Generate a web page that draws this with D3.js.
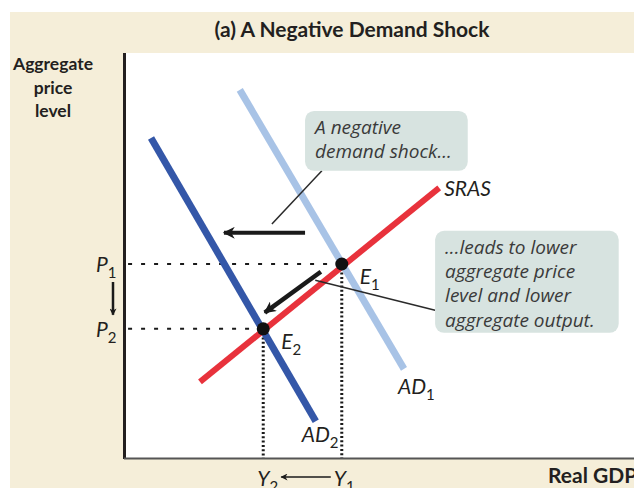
<!DOCTYPE html>
<html>
<head>
<meta charset="utf-8">
<script src="https://cdn.jsdelivr.net/npm/d3@7"></script>
<style>
    body { margin: 0; background: #fff; }
    svg { display: block; }
    .bold { font-family: Lato, "Open Sans", sans-serif; font-weight: 700; fill: #231f20; }
    .ital { font-family: Lato, "Open Sans", sans-serif; font-style: italic; fill: #231f20; }
    .note { font-family: "Open Sans", Lato, sans-serif; font-style: italic; fill: #3a3a3a; font-size: 19px; }
</style>
</head>
<body>
<div id="chart"></div>
<script>
// curves, in chart units (x: real GDP, y: aggregate price level)
const ad1 = [[22.7, 90.9], [54.9, 22.0]];
const ad2 = [[5.3, 79.0], [37.6, 9.1]];
const sras = [[14.9, 18.8], [61.8, 66.7]];

// equilibria
const equilibria = [
    { name: "E", sub: "1", x: 42.7, y: 47.9 },
    { name: "E", sub: "2", x: 27.3, y: 31.9 }
];

// arrows
const shiftArrow = [[35.5, 55.6], [19.6, 55.6]];
const moveArrow = [[38.6, 46.0], [27.6, 35.9]];

// callouts
const notes = [
    { lines: ["A negative", "demand shock..."], box: [35.5, 85.7, 67.4, 70.9], leader: [[38.8, 70.9], [29.0, 57.8]] },
    { lines: ["...leads to lower", "aggregate price", "level and lower", "aggregate output."], box: [61.0, 56.1, 97.0, 30.9], leader: [[61.0, 36.5], [37.5, 43.9]] }
];

const width = 634, height = 488;
const margin = { top: 53, right: 0, bottom: 30, left: 124 };

const svg = d3.select("#chart").append("svg")
    .attr("width", width).attr("height", height);

const x = d3.scaleLinear().domain([0, 100]).range([margin.left, width - margin.right]);
const y = d3.scaleLinear().domain([0, 100]).range([height - margin.bottom, margin.top]);

const beige = "#f5eed9";

// background panels
svg.append("rect").attr("x", 10).attr("y", 12).attr("width", width - 10).attr("height", height - 12).attr("fill", beige);
svg.append("rect").attr("x", x(0)).attr("y", y(100))
    .attr("width", x(100) - x(0)).attr("height", y(0) - y(100)).attr("fill", "#fff");

// arrow heads
const defs = svg.append("defs");
defs.append("marker").attr("id", "head").attr("viewBox", "0 0 10 10")
    .attr("refX", 9).attr("refY", 5).attr("markerUnits", "userSpaceOnUse")
    .attr("markerWidth", 17).attr("markerHeight", 12).attr("orient", "auto")
    .append("path").attr("d", "M0,0 L10,5 L0,10 L3,5 Z").attr("fill", "#1a1a1a");
defs.append("marker").attr("id", "headSmall").attr("viewBox", "0 0 10 10")
    .attr("refX", 9).attr("refY", 5).attr("markerUnits", "userSpaceOnUse")
    .attr("markerWidth", 10).attr("markerHeight", 7).attr("orient", "auto")
    .append("path").attr("d", "M0,0 L10,5 L0,10 L3,5 Z").attr("fill", "#1a1a1a");

// title
svg.append("text").attr("class", "bold").attr("x", 352).attr("y", 37)
    .attr("text-anchor", "middle").attr("font-size", 21)
    .text("(a) A Negative Demand Shock");

// y axis title
svg.append("text").attr("class", "bold").attr("font-size", 17.5).attr("text-anchor", "middle")
    .selectAll("tspan").data(["Aggregate", "price", "level"]).enter().append("tspan")
    .attr("x", 53).attr("y", (d, i) => 70 + i * 23.5).text(d => d);

// x axis title
svg.append("text").attr("class", "bold").attr("font-size", 21)
    .attr("x", 548).attr("y", 483).text("Real GDP");

const line = d3.line().x(d => x(d[0])).y(d => y(d[1]));

// guide lines
const dotted = svg.append("g").attr("stroke", "#1a1a1a").attr("fill", "none");
equilibria.forEach(e => {
    dotted.append("path").attr("d", line([[0.8, e.y], [e.x, e.y]]))
        .attr("stroke-width", 2).attr("stroke-dasharray", "4 9");
    dotted.append("path").attr("d", line([[e.x, e.y], [e.x, 0]]))
        .attr("stroke-width", 3).attr("stroke-dasharray", "2 2.3");
});

// curves
svg.append("path").attr("d", line(ad1)).attr("stroke", "#a8c3e6").attr("stroke-width", 7).attr("fill", "none");
svg.append("path").attr("d", line(ad2)).attr("stroke", "#3457a8").attr("stroke-width", 7).attr("fill", "none");
svg.append("path").attr("d", line(sras)).attr("stroke", "#e8323c").attr("stroke-width", 6).attr("fill", "none");

// callouts
notes.forEach(n => {
    svg.append("path").attr("d", line(n.leader)).attr("stroke", "#2a2a2a").attr("stroke-width", 1.5).attr("fill", "none");
    svg.append("rect").attr("x", x(n.box[0])).attr("y", y(n.box[1]))
        .attr("width", x(n.box[2]) - x(n.box[0])).attr("height", y(n.box[3]) - y(n.box[1]))
        .attr("rx", 9).attr("fill", "#d7e3e0");
    svg.append("text").attr("class", "note")
        .selectAll("tspan").data(n.lines).enter().append("tspan")
        .attr("x", x(n.box[0]) + 10).attr("y", (d, i) => y(n.box[1]) + 23 + i * 24.3).text(d => d);
});

// arrows
svg.append("path").attr("d", line(shiftArrow)).attr("stroke", "#1a1a1a").attr("stroke-width", 4)
    .attr("fill", "none").attr("marker-end", "url(#head)");
svg.append("path").attr("d", line(moveArrow)).attr("stroke", "#1a1a1a").attr("stroke-width", 4.5)
    .attr("fill", "none").attr("marker-end", "url(#head)");

// equilibrium points
svg.selectAll(".eq").data(equilibria).enter().append("circle").attr("class", "eq")
    .attr("cx", d => x(d.x)).attr("cy", d => y(d.y)).attr("r", 6.5).attr("fill", "#111");

function subLabel(px, py, main, sub, size) {
    const t = svg.append("text").attr("class", "ital").attr("x", px).attr("y", py).attr("font-size", size || 21);
    t.append("tspan").text(main);
    t.append("tspan").attr("dy", 6).attr("font-size", 15).attr("font-style", "normal").text(sub);
    return t;
}

equilibria.forEach(e => subLabel(x(e.x) + 18, y(e.y) + 20, e.name, e.sub));
subLabel(x(ad1[1][0]) - 6, y(ad1[1][1]) + 25, "AD", "1");
subLabel(x(ad2[1][0]) - 14, y(ad2[1][1]) + 21, "AD", "2");
svg.append("text").attr("class", "ital").attr("font-size", 21)
    .attr("x", x(sras[1][0]) + 5).attr("y", y(sras[1][1]) + 8).text("SRAS");

// axis tick labels
subLabel(96, y(equilibria[0].y) + 8, "P", "1");
subLabel(96, y(equilibria[1].y) + 8, "P", "2");
subLabel(x(equilibria[1].x) - 6, 486, "Y", "2");
subLabel(x(equilibria[0].x) - 8, 486, "Y", "1");

// price and output arrows
svg.append("path").attr("d", `M113,${y(equilibria[0].y) + 18}V${y(equilibria[1].y) - 14}`)
    .attr("stroke", "#1a1a1a").attr("stroke-width", 2.5).attr("marker-end", "url(#headSmall)");
svg.append("path").attr("d", `M${x(equilibria[0].x) - 11},477H${x(equilibria[1].x) + 18}`)
    .attr("stroke", "#1a1a1a").attr("stroke-width", 1.5).attr("marker-end", "url(#headSmall)");

// axes
svg.append("path").attr("d", `M${x(0) + 0.5},${y(100)}V${y(0) + 1}`).attr("stroke", "#231f20").attr("stroke-width", 3);
svg.append("path").attr("d", `M${x(0)},${y(0) + 0.5}H${width}`).attr("stroke", "#555").attr("stroke-width", 2);
</script>
</body>
</html>
